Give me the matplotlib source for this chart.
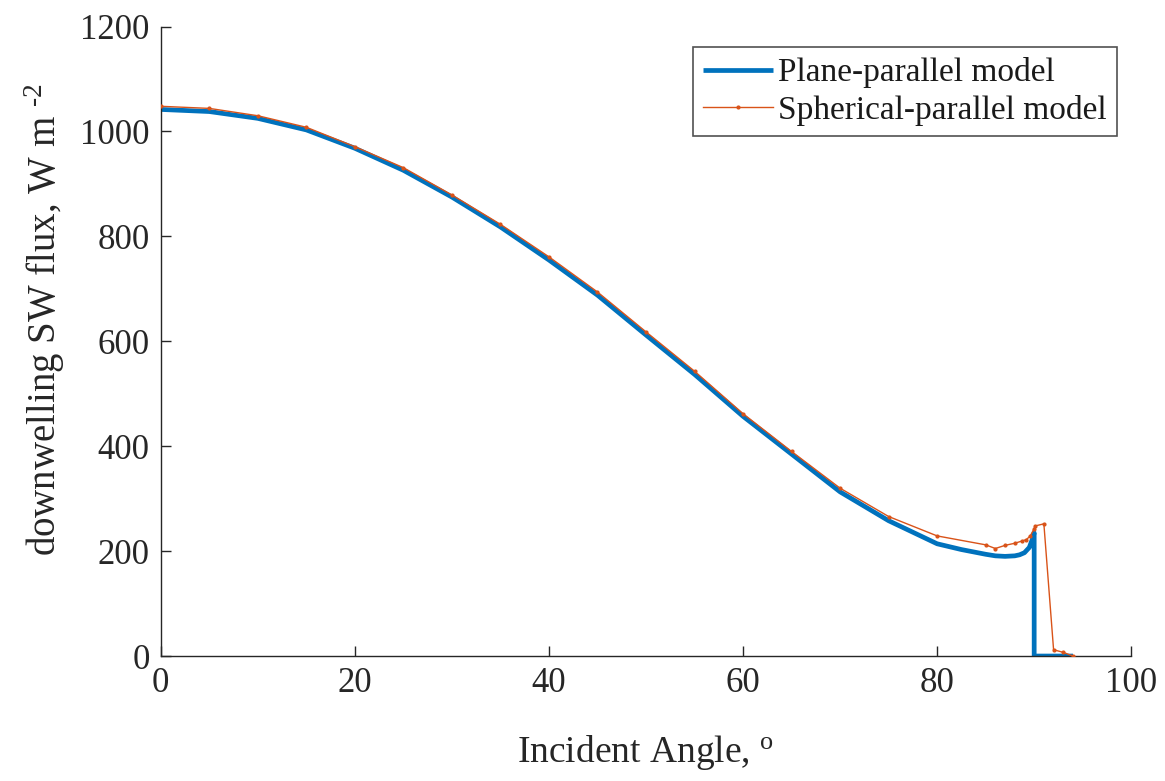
import matplotlib
matplotlib.use("Agg")
import matplotlib.pyplot as plt

plane_angle = [0, 5, 10, 15, 20, 25, 30, 35, 40, 45, 50, 55, 60, 65, 70, 75, 80,
               82.5, 85, 86, 87, 88, 88.5, 89, 89.5, 89.8, 90, 90, 94]
plane_flux = [1042, 1038, 1025, 1003, 968, 926, 875, 818, 755, 688, 612, 537, 457,
              385, 313, 258, 214, 203, 194, 191, 190, 191, 193, 197, 207, 222, 235, 0, 0]

sph_angle = [0, 5, 10, 15, 20, 25, 30, 35, 40, 45, 50, 55, 60, 65, 70, 75, 80,
             85, 86, 87, 88, 88.7, 89.2, 89.6, 90, 90.1, 91, 92, 93, 94]
sph_flux = [1048, 1044, 1030, 1008, 971, 931, 879, 823, 761, 694, 618, 543, 462,
            390, 320, 266, 229, 212, 205, 211, 215, 219, 222, 229, 243, 248, 252, 12, 7, 0]

plt.rcParams['font.family'] = ['Liberation Serif', 'DejaVu Serif']
plt.rcParams['mathtext.fontset'] = 'custom'
plt.rcParams['mathtext.rm'] = 'Liberation Serif'
plt.rcParams['mathtext.it'] = 'Liberation Serif:italic'

fig = plt.figure(figsize=(11.65, 7.81), dpi=100)
ax = fig.add_axes([0.138, 0.16, 0.833, 0.806])

ax.plot(plane_angle, plane_flux, color='#0072BD', lw=3.4, label='Plane-parallel model',
        solid_capstyle='butt', zorder=2)
ax.plot(sph_angle, sph_flux, color='#D95319', lw=1.0, marker='.', markersize=4,
        label='Spherical-parallel model', zorder=3)

ax.set_xlim(0, 100)
ax.set_ylim(0, 1200)
ax.set_xticks(range(0, 101, 20))
ax.set_yticks(range(0, 1201, 200))
ax.tick_params(direction='in', length=7, width=1, labelsize=25, colors='#262626', pad=8)
for s in ['top', 'right']:
    ax.spines[s].set_visible(False)
for s in ['left', 'bottom']:
    ax.spines[s].set_color('#262626')
    ax.spines[s].set_linewidth(1)

ax.set_xlabel('Incident Angle, $^{\\mathrm{o}}$', fontsize=27, color='#262626', labelpad=24)
ax.set_ylabel('downwelling SW flux, W m $^{\\text{-}2}$', fontsize=28, color='#262626')
ax.yaxis.set_label_coords(-0.097, 0.535)

leg = ax.legend(loc='upper right', fontsize=24, frameon=True, fancybox=False,
                edgecolor='#262626', handlelength=2.1, handletextpad=0.15,
                borderpad=0.3, labelspacing=0.2, borderaxespad=0.0,
                bbox_to_anchor=(0.985, 0.967))
leg.get_frame().set_linewidth(1.2)
for t in leg.get_texts():
    t.set_color('#1a1a1a')

fig.savefig('out.png', dpi=100)
